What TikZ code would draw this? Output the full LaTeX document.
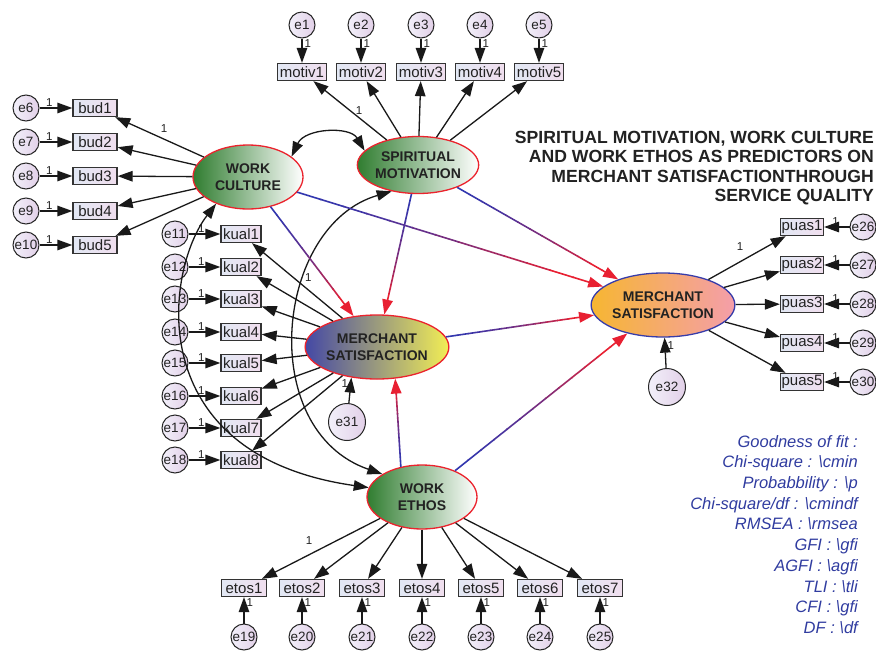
\documentclass[tikz,border=0pt]{standalone}
\usepackage{fontspec}
\setmainfont{Liberation Sans}
\usetikzlibrary{shapes.geometric,arrows.meta,calc}

\definecolor{wcgreen}{RGB}{48,125,48}
\definecolor{msblue}{RGB}{68,72,165}
\definecolor{msyellow}{RGB}{242,238,85}
\definecolor{msorange}{RGB}{246,182,50}
\definecolor{mspink}{RGB}{244,158,170}
\definecolor{latred}{RGB}{235,35,45}
\definecolor{latblue}{RGB}{55,60,170}
\definecolor{pblue}{RGB}{50,55,175}
\definecolor{pred}{RGB}{232,32,50}
\definecolor{boxL}{RGB}{226,232,244}
\definecolor{boxR}{RGB}{240,222,238}
\definecolor{errL}{RGB}{242,240,250}
\definecolor{errR}{RGB}{226,208,232}
\definecolor{legblue}{RGB}{48,60,160}
\definecolor{ink}{RGB}{34,34,34}

\tikzset{
  lat/.style={ellipse, line width=1.3pt, minimum width=110pt, minimum height=64pt,
    inner sep=0pt, align=center, text=ink, font=\bfseries\fontsize{14}{17}\selectfont},
  ind/.style={rectangle, draw=black!80, line width=1.3pt, left color=boxL, right color=boxR,
    inner xsep=1pt, inner ysep=0pt, minimum height=17pt, text=ink,
    font=\fontsize{15}{15}\selectfont},
  err/.style={circle, draw=black!85, line width=1pt, left color=errL, right color=errR,
    inner sep=0pt, minimum size=26pt, text=ink, font=\fontsize{13.5}{13.5}\selectfont},
  bigerr/.style={err, minimum size=37pt},
  load/.style={draw=black!90, line width=1.3pt, -{Triangle[length=15pt,width=10.5pt]}},
  cov/.style={draw=black!90, line width=1.3pt,
    {Triangle[length=15pt,width=10.5pt]}-{Triangle[length=15pt,width=10.5pt]}},
  one/.style={font=\fontsize{11.5}{11.5}\selectfont, inner sep=1pt, text=ink},
}

\newcommand\gradarrow[2]{%
  \path (#1) -- (#2) coordinate[pos=0] (gA) coordinate[pos=1] (gB);
  \foreach \k in {0,...,11}{%
    \pgfmathsetmacro\ta{\k*0.075}%
    \pgfmathsetmacro\tb{(\k+1)*0.075+0.004}%
    \pgfmathtruncatemacro\mix{100-100*(\k/11)^1.6}%
    \draw[line width=1.6pt, draw=pblue!\mix!pred] ($(gA)!\ta!(gB)$) -- ($(gA)!\tb!(gB)$);
  }%
  \draw[line width=1.6pt, pred, -{Triangle[length=15pt,width=10.5pt]}] ($(gA)!0.9!(gB)$) -- (gB);
}

\begin{document}
\begin{tikzpicture}[x=1pt,y=-1pt]
\useasboundingbox (0,0) rectangle (876,651);
\clip (0,0) rectangle (876,651);
\fill[white] (0,0) rectangle (876,651);

% latent variables
\node[lat, draw=latred, left color=wcgreen, right color=white] (wc) at (248,177) {WORK\\CULTURE};
\node[lat, draw=latred, left color=wcgreen, right color=white, minimum width=108pt, minimum height=57pt] (sm) at (418,165) {SPIRITUAL\\MOTIVATION};
\node[lat, draw=latred, left color=msblue, middle color=msyellow!70!msblue, right color=msyellow] (ms1) at (377,347) {MERCHANT\\SATISFACTION};
\node[lat, draw=latblue, left color=msorange, right color=mspink] (ms2) at (663,305) {MERCHANT\\SATISFACTION};
\node[lat, draw=latred, left color=wcgreen, right color=white] (we) at (422,497) {WORK\\ETHOS};

% motivation indicators
\foreach \i/\x in {1/302,2/361,3/421,4/480,5/539}{
  \node[ind, minimum width=49pt] (motiv\i) at (\x,72) {motiv\i};
  \node[err] (e\i) at (\x,25) {e\i};
  \draw[load] (e\i) -- (motiv\i) node[one, pos=0.2, right=1pt] (le\i) {1};
  \draw[load] (sm) -- (motiv\i);
}
\path (sm) -- (motiv1) node[one, pos=0.5, xshift=9pt] (lsm) {1};

% work culture indicators
\foreach \i/\e/\y in {1/6/108,2/7/142,3/8/176,4/9/211,5/10/245}{
  \node[ind, minimum width=44pt] (bud\i) at (95,\y) {bud\i};
  \node[err] (e\e) at (26,\y) {e\e};
  \draw[load] (e\e) -- (bud\i) node[one, pos=0.3, above=0pt] (le\e) {1};
  \draw[load] (wc) -- (bud\i);
}
\path (wc) -- (bud1) node[one, pos=0.45, above=5pt] (lwc) {1};

% service quality indicators
\foreach \i/\e/\y in {1/11/234,2/12/267,3/13/299,4/14/332,5/15/363,6/16/396,7/17/428,8/18/460}{
  \node[ind, minimum width=40pt] (kual\i) at (241,\y) {kual\i};
  \node[err] (e\e) at (175,\y) {e\e};
  \draw[load] (e\e) -- (kual\i) node[one, pos=0.4, above=0pt] (le\e) {1};
  \draw[load] (ms1) -- (kual\i);
}
\path (ms1) -- (kual1) node[one, pos=0.4, above=6pt, xshift=2pt] (lms1) {1};

% satisfaction indicators
\foreach \i/\e/\y in {1/26/227,2/27/265,3/28/304,4/29/343,5/30/382}{
  \node[ind, minimum width=41pt] (puas\i) at (802,\y) {puas\i};
  \node[err] (e\e) at (863,\y) {e\e};
  \draw[load] (e\e) -- (puas\i) node[one, pos=0.55, above=0pt] (le\e) {1};
  \draw[load] (ms2) -- (puas\i);
}
\path (ms2) -- (puas1) node[one, pos=0.45, above=8pt, xshift=-3pt] (lms2) {1};

% work ethos indicators
\foreach \i/\e/\x in {1/19/244,2/20/302,3/21/362,4/22/422,5/23/481,6/24/540,7/25/600}{
  \node[ind, minimum width=45pt] (etos\i) at (\x,588) {etos\i};
  \node[err] (e\e) at (\x,637) {e\e};
  \draw[load] (e\e) -- (etos\i) node[one, pos=0.8, right=1pt] (le\e) {1};
  \draw[load] (we) -- (etos\i);
}
\path (we) -- (etos1) node[one, pos=0.6, above=9pt] (lwe) {1};

% structural errors
\node[bigerr] (e31) at (347,422) {e31};
\node[bigerr] (e32) at (667,387) {e32};
\draw[load] (e31) -- (ms1.230) node[one, pos=0.75, left=1pt] (le31) {1};
\draw[load] (e32) -- (ms2) node[one, pos=0.75, right=1pt] (le32) {1};

% covariances
\draw[cov] (wc.25) .. controls (305,128) and (350,126) .. (sm.165);
\draw[cov] (wc.220) .. controls (165,270) and (140,455) .. (we.170);
\draw[cov] (sm.225) .. controls (275,225) and (255,430) .. (we.150);

% structural paths
\gradarrow{wc}{ms1}
\gradarrow{sm}{ms1}
\gradarrow{we.125}{ms1.300}
\gradarrow{wc}{ms2}
\gradarrow{sm}{ms2}
\gradarrow{we}{ms2}
\gradarrow{ms1}{ms2}

% title
\node[anchor=north east, inner sep=0pt, align=right, text=ink,
  font=\bfseries\fontsize{17.6}{19.5}\selectfont] (title) at (874,131)
  {SPIRITUAL MOTIVATION, WORK CULTURE\\AND WORK ETHOS AS PREDICTORS ON\\MERCHANT SATISFACTIONTHROUGH\\SERVICE QUALITY};

% legend
\node[anchor=north east, inner sep=0pt, align=right, text=legblue,
  font=\itshape\fontsize{16.5}{20.7}\selectfont] (legend) at (858,435)
  {Goodness of fit :\\Chi-square : \textbackslash cmin\\Probabbility : \textbackslash p\\Chi-square/df : \textbackslash cmindf\\RMSEA : \textbackslash rmsea\\GFI : \textbackslash gfi\\AGFI : \textbackslash agfi\\TLI : \textbackslash tli\\CFI : \textbackslash gfi\\DF : \textbackslash df};
\end{tikzpicture}
\end{document}
